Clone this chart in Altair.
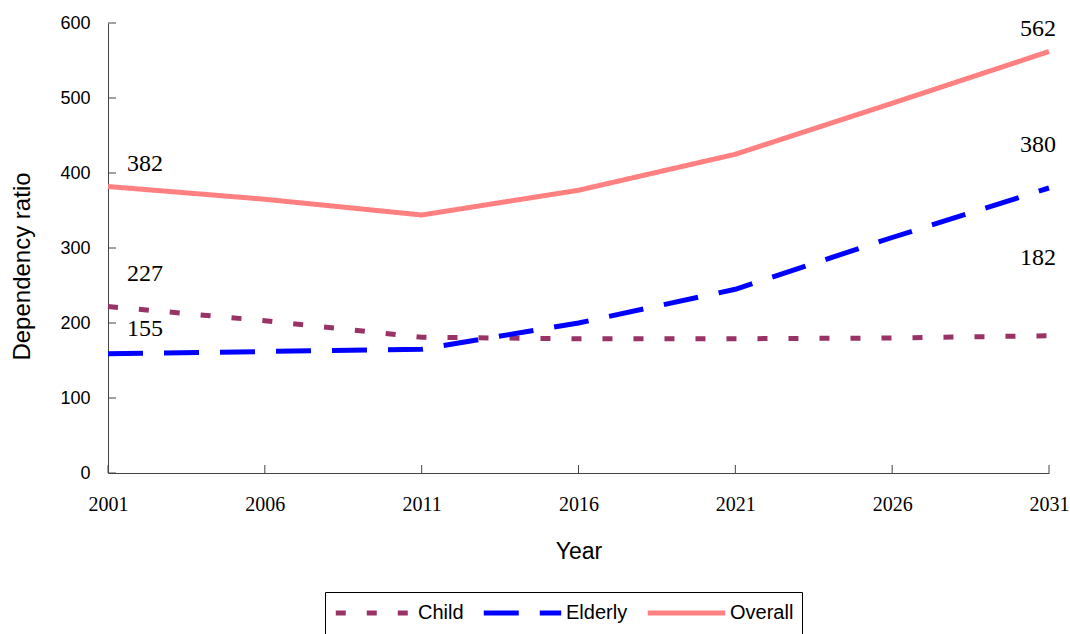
import altair as alt
import pandas as pd

years = [2001, 2006, 2011, 2016, 2021, 2026, 2031]
child = [222, 203, 181, 179, 179, 180, 183]
elderly = [159, 162, 165, 200, 245, 314, 380]
overall = [382, 365, 344, 377, 425, 493, 562]

series_names = ["Child", "Elderly", "Overall"]
series_colors = ["#993366", "#0000FF", "#FF8080"]
series_dashes = [[10, 21], [35, 21], [1, 0]]

y_ticks = [0, 100, 200, 300, 400, 500, 600]
x_ticks = years

left_labels = ["382", "227", "155"]
left_anchor = [403, 256, 183]
right_labels = ["562", "380", "182"]
right_anchor = [583, 428, 277]

rows = []
for name, vals in zip(series_names, [child, elderly, overall]):
    for yr, v in zip(years, vals):
        rows.append({"Year": yr, "Series": name, "Value": v})
df = pd.DataFrame(rows)

df_left = pd.DataFrame({"Year": [years[0]] * 3, "Anchor": left_anchor, "Label": left_labels})
df_right = pd.DataFrame({"Year": [years[-1]] * 3, "Anchor": right_anchor, "Label": right_labels})
df_yt = pd.DataFrame({"v": y_ticks})
df_xt = pd.DataFrame({"Year": x_ticks})

axis_color = "#444444"

x_scale = alt.Scale(domain=[2001, 2031], nice=False, zero=False)
y_scale = alt.Scale(domain=[0, 600], nice=False)

x_axis = alt.Axis(
    values=x_ticks, format="d", title="Year",
    labelFont="Liberation Serif", labelFontSize=20, labelColor="black",
    labelPadding=21, ticks=False, tickSize=0, grid=False,
    domainColor=axis_color, domainWidth=1,
    titleFont="Liberation Sans", titleFontSize=23, titleFontWeight="normal",
    titleColor="black", titleY=85, titleBaseline="alphabetic",
    labelFlush=False, labelOverlap=False,
)
y_axis = alt.Axis(
    values=y_ticks, title="Dependency ratio",
    labelFont="Liberation Sans", labelFontSize=18, labelColor="black",
    labelPadding=18, ticks=False, tickSize=0, grid=False,
    domainColor=axis_color, domainWidth=1,
    titleFont="Liberation Sans", titleFontSize=24, titleFontWeight="normal",
    titleColor="black", titleX=-79, titleY=243, titleBaseline="alphabetic",
    titleAlign="center", titleAngle=270,
)

legend = alt.Legend(
    orient="none", legendX=217, legendY=569, direction="horizontal",
    title=None, strokeColor="black", padding=8, clipHeight=26,
    symbolSize=6000, symbolStrokeWidth=5, symbolType="stroke",
    labelFont="Liberation Sans", labelFontSize=20, labelColor="black",
    labelOffset=2, columnPadding=17,
)

lines = alt.Chart(df).mark_line(strokeWidth=5).encode(
    x=alt.X("Year:Q", scale=x_scale, axis=x_axis),
    y=alt.Y("Value:Q", scale=y_scale, axis=y_axis),
    color=alt.Color("Series:N", scale=alt.Scale(domain=series_names, range=series_colors), legend=legend),
    strokeDash=alt.StrokeDash("Series:N", scale=alt.Scale(domain=series_names, range=series_dashes), legend=legend),
)

ytick_rules = alt.Chart(df_yt).mark_rule(color=axis_color, strokeWidth=1).encode(
    y=alt.Y("v:Q", scale=y_scale),
    x=alt.value(0),
    x2=alt.value(8),
)
xtick_rules = alt.Chart(df_xt).mark_rule(color=axis_color, strokeWidth=1).encode(
    x=alt.X("Year:Q", scale=x_scale),
    y=alt.value(450),
    y2=alt.value(442),
)

left_text = alt.Chart(df_left).mark_text(
    font="Liberation Serif", fontSize=24, color="black", align="left",
    baseline="alphabetic", dx=19,
).encode(
    x=alt.X("Year:Q", scale=x_scale),
    y=alt.Y("Anchor:Q", scale=y_scale),
    text="Label:N",
)
right_text = alt.Chart(df_right).mark_text(
    font="Liberation Serif", fontSize=24, color="black", align="right",
    baseline="alphabetic", dx=7,
).encode(
    x=alt.X("Year:Q", scale=x_scale),
    y=alt.Y("Anchor:Q", scale=y_scale),
    text="Label:N",
)

chart = alt.layer(lines, ytick_rules, xtick_rules, left_text, right_text).properties(
    width=941, height=450,
    autosize=alt.AutoSizeParams(type="none"),
    padding={"left": 108, "top": 23, "right": 21, "bottom": 161},
    background="white",
).configure_view(strokeWidth=0)

chart.save("out.html", embed_options={"renderer": "svg", "actions": False})
